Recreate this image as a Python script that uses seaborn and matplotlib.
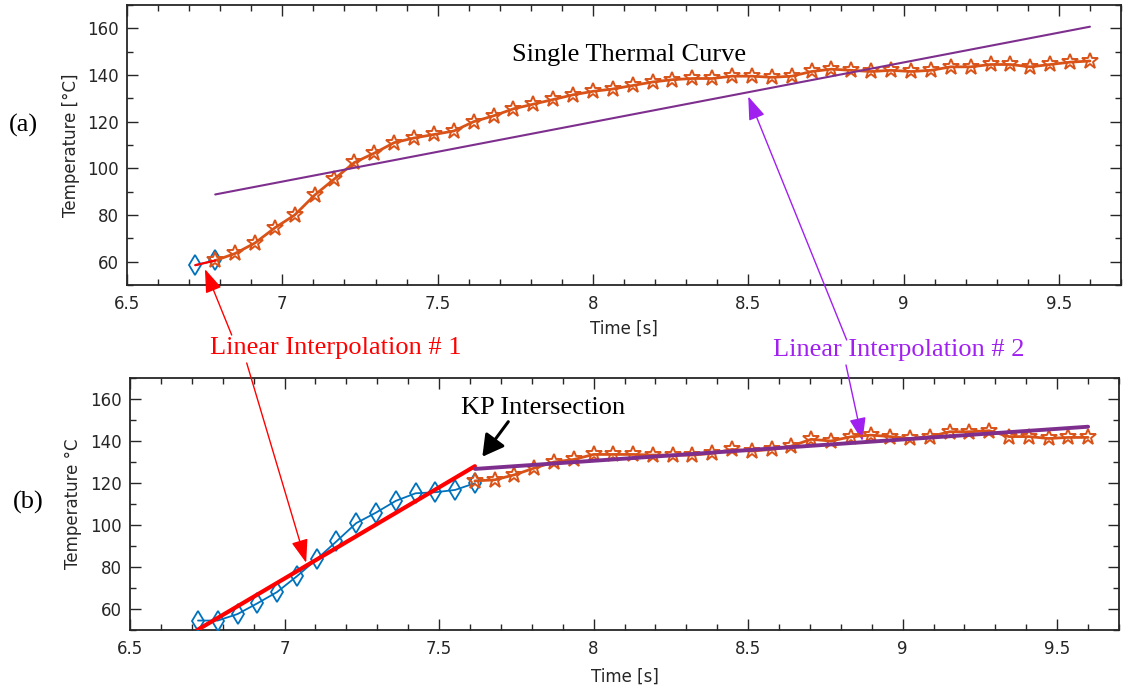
import numpy as np
import pandas as pd
import matplotlib
matplotlib.use("Agg")
import matplotlib.pyplot as plt
import seaborn as sns
from matplotlib.ticker import MultipleLocator

# ---------------- data ----------------
time_s = [6.720, 6.784, 6.848, 6.912, 6.976, 7.040, 7.104, 7.168, 7.232, 7.296,
          7.360, 7.424, 7.488, 7.552, 7.616, 7.680, 7.744, 7.808, 7.872, 7.936,
          8.000, 8.064, 8.128, 8.192, 8.256, 8.320, 8.384, 8.448, 8.512, 8.576,
          8.640, 8.704, 8.768, 8.832, 8.896, 8.960, 9.024, 9.088, 9.152, 9.216,
          9.280, 9.344, 9.408, 9.472, 9.536, 9.600]

# (a) single thermal curve
a_diamond_idx = [0, 1]
a_diamond_temp = [58.5, 60.5]
a_star_temp = [60.5, 63.5, 68.0, 74.5, 80.0, 88.5, 95.5, 102.5, 106.5, 111.0,
               113.0, 114.5, 116.0, 120.0, 122.5, 125.5, 127.5, 129.5, 131.5, 133.0,
               134.0, 135.5, 137.0, 138.0, 138.5, 138.5, 139.5, 139.5, 139.0, 139.5,
               141.5, 142.5, 142.0, 141.5, 142.0, 141.5, 142.0, 143.5, 143.5, 144.5,
               144.5, 143.5, 144.5, 145.5, 146.0]          # indices 1..45
a_fit_time = [6.784, 9.600]
a_fit_temp = [88.8, 160.7]
a_lin1_time = [6.720, 6.784]
a_lin1_temp = [58.5, 60.5]

# (b) two-segment fit
b_diamond_temp = [54.5, 54.5, 57.6, 62.7, 68.1, 75.6, 83.7, 92.2, 100.9, 105.9,
                  111.5, 115.1, 115.6, 116.7, 119.9]          # indices 0..14
b_star_temp = [121.0, 121.5, 123.9, 127.1, 130.0, 131.2, 133.6, 133.6, 133.6, 133.3,
               133.3, 133.3, 134.1, 136.0, 135.2, 136.0, 137.6, 140.8, 140.0, 142.0,
               142.8, 142.1, 141.2, 142.1, 144.4, 144.4, 144.9, 142.1, 142.1, 141.2,
               141.7, 141.7]                                 # indices 14..45
b_lin1_time = [6.720, 7.616]
b_lin1_temp = [50.2, 128.0]
b_lin2_time = [7.616, 9.600]
b_lin2_temp = [126.7, 146.8]

x_ticks = [6.5, 7, 7.5, 8, 8.5, 9, 9.5]
x_tick_labels = ["6.5", "7", "7.5", "8", "8.5", "9", "9.5"]
y_ticks = [60, 80, 100, 120, 140, 160]

# ---------------- style ----------------
BLUE = "#0072BD"
ORANGE = "#D95319"
PURPLE = "#7E2F8E"
RED = "#FF0000"
VIOLET = "#A020F0"
DARK = "#262626"

sns.set_theme(style="ticks")
plt.rcParams["font.family"] = ["DejaVu Sans"]
SERIF = ["Liberation Serif", "DejaVu Serif"]

W, H = 1135, 689
fig = plt.figure(figsize=(W / 100, H / 100), dpi=100)


def fpx(x, y):
    """top-left pixel -> figure fraction"""
    return (x / W, 1 - y / H)


ax_a = fig.add_axes([127 / W, 1 - 285 / H, (1121 - 127) / W, 280 / H])
ax_b = fig.add_axes([130 / W, 1 - 630 / H, (1119 - 130) / W, 252 / H])


def style_axes(ax, ylabel, ylab_x, xlab_y):
    ax.set_xlim(6.5, 9.7)
    ax.set_ylim(50, 170)
    ax.set_xticks(x_ticks)
    ax.set_xticklabels(x_tick_labels)
    ax.set_yticks(y_ticks)
    ax.xaxis.set_minor_locator(MultipleLocator(0.1))
    ax.yaxis.set_minor_locator(MultipleLocator(10))
    ax.tick_params(which="both", direction="in", top=True, right=True,
                   color=DARK, labelcolor=DARK, labelsize=12, width=1.0)
    ax.tick_params(which="major", length=8)
    ax.tick_params(which="minor", length=4.5)
    ax.tick_params(axis="x", which="major", pad=7)
    ax.tick_params(axis="y", which="major", pad=6)
    for s in ax.spines.values():
        s.set_visible(True)
        s.set_color(DARK)
        s.set_linewidth(1.3)
    ax.set_xlabel("Time [s]", fontsize=12, color=DARK)
    ax.set_ylabel(ylabel, fontsize=12, color=DARK)
    ax.yaxis.set_label_coords(ylab_x, 0.5)
    ax.xaxis.set_label_coords(0.5, xlab_y)
    ax.grid(False)


MK_D = dict(marker="d", markersize=10.5, markerfacecolor="none",
            markeredgecolor=BLUE, markeredgewidth=1.3)
MK_S = dict(marker="*", markersize=12, markerfacecolor="none",
            markeredgecolor=ORANGE, markeredgewidth=1.4)

# ---- panel (a) ----
sns.lineplot(x=[time_s[i] for i in a_diamond_idx], y=a_diamond_temp, ax=ax_a,
             color=BLUE, linewidth=1.3, sort=False, zorder=3, **MK_D)
sns.lineplot(x=time_s[1:], y=a_star_temp, ax=ax_a, color=ORANGE, linewidth=2.0,
             sort=False, zorder=4, **MK_S)
sns.lineplot(x=a_lin1_time, y=a_lin1_temp, ax=ax_a, color=RED, linewidth=1.6,
             sort=False, zorder=5)
sns.lineplot(x=a_fit_time, y=a_fit_temp, ax=ax_a, color=PURPLE, linewidth=1.5,
             sort=False, zorder=5)
style_axes(ax_a, "Temperature [°C]", -0.047, -0.125)

# ---- panel (b) ----
sns.lineplot(x=time_s[0:15], y=b_diamond_temp, ax=ax_b, color=BLUE, linewidth=1.3,
             sort=False, zorder=3, **MK_D)
sns.lineplot(x=time_s[14:], y=b_star_temp, ax=ax_b, color=ORANGE, linewidth=2.0,
             sort=False, zorder=4, **MK_S)
sns.lineplot(x=b_lin1_time, y=b_lin1_temp, ax=ax_b, color=RED, linewidth=3.0,
             sort=False, zorder=5)
sns.lineplot(x=b_lin2_time, y=b_lin2_temp, ax=ax_b, color=PURPLE, linewidth=2.8,
             sort=False, zorder=5)
style_axes(ax_b, "Temperature °C", -0.0485, -0.15)

# ---- texts ----
fig.text(*fpx(629, 55), "Single Thermal Curve", family=SERIF, fontsize=19,
         color="black", ha="center", va="center")
fig.text(*fpx(23, 125), "(a)", family=SERIF, fontsize=19, color="black",
         ha="center", va="center")
fig.text(*fpx(28, 502), "(b)", family=SERIF, fontsize=19, color="black",
         ha="center", va="center")
fig.text(*fpx(336, 348), "Linear Interpolation # 1", family=SERIF, fontsize=19,
         color=RED, ha="center", va="center")
fig.text(*fpx(899, 350), "Linear Interpolation # 2", family=SERIF, fontsize=19,
         color=VIOLET, ha="center", va="center")
fig.text(*fpx(543, 408), "KP Intersection", family=SERIF, fontsize=19,
         color="black", ha="center", va="center")

# ---- arrows ----
def arrow(ax, tip, tail_px, color, lw=1.0, hl=0.9, hw=0.32, ms=16):
    ax.annotate("", xy=tip, xycoords="data", xytext=fpx(*tail_px),
                textcoords="figure fraction", annotation_clip=False,
                arrowprops=dict(arrowstyle=f"-|>,head_length={hl},head_width={hw}",
                                color=color, lw=lw, mutation_scale=ms,
                                shrinkA=0, shrinkB=0))

arrow(ax_a, (6.751, 56.8), (231.7, 335), RED)
arrow(ax_b, (7.07, 82.0), (246.7, 363), RED)
arrow(ax_a, (8.50, 130.8), (846.7, 340), VIOLET)
arrow(ax_b, (8.87, 140.0), (846.0, 365), VIOLET)
arrow(ax_b, (7.64, 132.5), (508.3, 421.7), "black", lw=2.2, hl=0.8, hw=0.45, ms=16)

fig.savefig("out.png", dpi=100)
